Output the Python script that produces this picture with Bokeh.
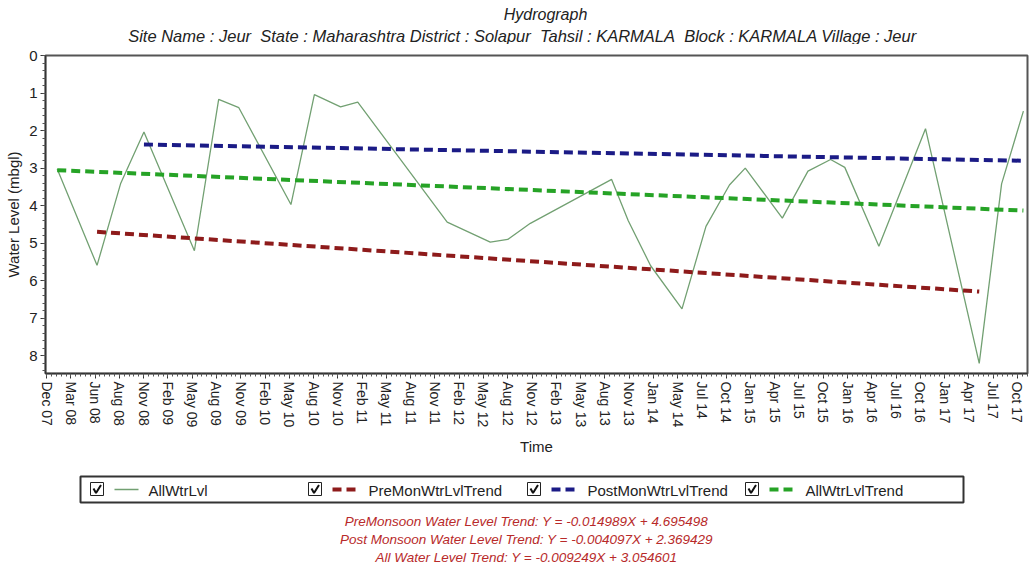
import pandas as pd
from bokeh.plotting import figure
from bokeh.models import Range1d, FixedTicker
from bokeh.layouts import column
from bokeh.embed import file_html
from bokeh.resources import INLINE
from bokeh.core.properties import value

# ---------------------------------------------------------------- data
ORIGIN = "2007-12-01"          # day 0 of the time axis
AXIS_END_DAY = 3601            # right end of the time axis, in days
Y_DEEPEST = 8.47               # bottom of the (inverted) depth axis

TICK_FIRST_DAY = 4
TICK_STEP_DAYS = 89
TICK_LABELS = [
    "Dec 07", "Mar 08", "Jun 08", "Aug 08", "Nov 08", "Feb 09", "May 09",
    "Aug 09", "Nov 09", "Feb 10", "May 10", "Aug 10", "Nov 10", "Feb 11",
    "May 11", "Aug 11", "Nov 11", "Feb 12", "May 12", "Aug 12", "Nov 12",
    "Feb 13", "May 13", "Aug 13", "Nov 13", "Jan 14", "May 14", "Jul 14",
    "Oct 14", "Jan 15", "Apr 15", "Jul 15", "Oct 15", "Jan 16", "Apr 16",
    "Jul 16", "Oct 16", "Jan 17", "Apr 17", "Jul 17", "Oct 17",
]

OBS_DATES = [
    "2008-01-13", "2008-06-07", "2008-09-02", "2008-11-26", "2009-05-30",
    "2009-08-27", "2009-11-09", "2010-05-19", "2010-08-13", "2010-11-17",
    "2011-01-19", "2011-12-13", "2012-05-19", "2012-07-22", "2012-10-13",
    "2013-08-07", "2013-10-07", "2013-12-28", "2014-04-22", "2014-07-19",
    "2014-10-13", "2014-12-10", "2015-04-25", "2015-07-28", "2015-10-19",
    "2015-12-10", "2016-04-13", "2016-10-01", "2017-04-16", "2017-07-07",
    "2017-09-25",
]
WATER_LEVEL = [
    3.02, 5.59, 3.40, 2.04, 5.20,
    1.17, 1.39, 3.97, 1.04, 1.37,
    1.24, 4.44, 4.97, 4.90, 4.47,
    3.30, 4.40, 5.60, 6.75, 4.55,
    3.45, 3.00, 4.33, 3.08, 2.77,
    2.98, 5.08, 1.95, 8.20, 3.42,
    1.48,
]

# linear trends: Y = slope * X + intercept, X in months counted back from the start date
TREND_NAMES = ["PreMonWtrLvlTrend", "PostMonWtrLvlTrend", "AllWtrLvlTrend"]
TREND_SLOPES = [-0.014989, -0.004097, -0.009249]
TREND_INTERCEPTS = [4.695498, 2.369429, 3.054601]
TREND_STARTS = ["2008-06-07", "2008-11-26", "2008-01-13"]
TREND_ENDS = ["2017-04-16", "2017-09-25", "2017-09-25"]
TREND_TITLES = ["PreMonsoon Water Level Trend", "Post Monsoon Water Level Trend",
                "All Water Level Trend"]

SERIES_NAME = "AllWtrLvl"
TITLE = "Hydrograph"
NBSP = "\u00a0"
SUBTITLE = ("Site Name : Jeur" + NBSP * 2 + "State : Maharashtra District : Solapur"
            + NBSP * 2 + "Tahsil : KARMALA" + NBSP * 2 + "Block : KARMALA Village : Jeur")

# ---------------------------------------------------------------- styling
FONT = "Liberation Sans"
TEXT_COLOR = "#222222"
LEVEL_COLOR = "#72a072"
TREND_COLORS = ["#8e1b1b", "#1b1b86", "#26a326"]
TREND_DASH = "9 5"
EQ_COLOR = "#b82a2a"

# page columns: every panel shares the same horizontal frame (x = 45 .. 1027 px)
PAGE_W = 1031
FRAME_L, FRAME_R = 45, 1027
HEAD_H, MAIN_H, FOOT_H = 44, 418, 109

base = pd.Timestamp(ORIGIN)
DAYS_PER_MONTH = 30.4375


def day_of(d):
    return (pd.Timestamp(d) - base).days


def blank_panel(height):
    f = figure(width=PAGE_W, height=height,
               x_range=Range1d(FRAME_L, FRAME_R), y_range=Range1d(height, 0),
               x_axis_type=None, y_axis_type=None,
               output_backend="svg", toolbar_location=None,
               min_border_left=FRAME_L, min_border_right=PAGE_W - FRAME_R,
               min_border_top=0, min_border_bottom=0)
    f.grid.visible = False
    f.outline_line_color = None
    f.background_fill_color = "white"
    f.border_fill_color = "white"
    return f


# ---------------------------------------------------------------- titles
head = blank_panel(HEAD_H)
head.text([545], [14], text=[TITLE], text_font=value(FONT), text_font_size="16px",
          text_font_style="italic", text_align="center", text_baseline="middle",
          text_color=TEXT_COLOR)
head.text([522], [35], text=[SUBTITLE], text_font=value(FONT), text_font_size="16.5px",
          text_font_style="italic", text_align="center", text_baseline="middle",
          text_color=TEXT_COLOR)

# ---------------------------------------------------------------- hydrograph
obs_x = [day_of(d) for d in OBS_DATES]

p = figure(width=PAGE_W, height=MAIN_H,
           x_range=Range1d(0, AXIS_END_DAY), y_range=Range1d(Y_DEEPEST, 0),
           output_backend="svg", toolbar_location=None,
           min_border_left=FRAME_L, min_border_right=PAGE_W - FRAME_R,
           min_border_top=11, min_border_bottom=89)
p.background_fill_color = "white"
p.border_fill_color = "white"
p.outline_line_color = "#555555"
p.outline_line_width = 2
p.grid.visible = False

# x axis: evenly spaced date ticks
major = [TICK_FIRST_DAY + TICK_STEP_DAYS * i for i in range(len(TICK_LABELS))]
minor = [TICK_FIRST_DAY + TICK_STEP_DAYS * i / 5.0 for i in range(-1, 5 * len(TICK_LABELS) + 3)]
p.xaxis.ticker = FixedTicker(ticks=major, minor_ticks=minor)
p.xaxis.major_label_overrides = {t: lab for t, lab in zip(major, TICK_LABELS)}
p.xaxis.major_label_orientation = "vertical"
p.xaxis.axis_label = "Time"

p.yaxis.ticker = FixedTicker(ticks=list(range(0, 9)),
                             minor_ticks=[i / 5.0 for i in range(0, 43)])
p.yaxis.axis_label = "Water Level (mbgl)"

for ax in (p.xaxis[0], p.yaxis[0]):
    ax.axis_line_color = "#333333"
    ax.axis_line_width = 1.5
    ax.major_tick_line_color = "#333333"
    ax.minor_tick_line_color = "#555555"
    ax.major_tick_in = 0
    ax.major_tick_out = 5
    ax.minor_tick_in = 0
    ax.minor_tick_out = 3
    ax.major_label_text_font = FONT
    ax.major_label_text_color = TEXT_COLOR
    ax.major_label_standoff = 3
    ax.axis_label_text_font = FONT
    ax.axis_label_text_font_style = "normal"
    ax.axis_label_text_color = TEXT_COLOR
    ax.axis_label_text_font_size = "15px"
    ax.axis_label_standoff = 4
p.xaxis.major_label_text_font_size = "14px"
p.xaxis.axis_label_standoff = 8
p.yaxis.major_label_text_font_size = "15px"

# observed water level
p.line(obs_x, WATER_LEVEL, line_color=LEVEL_COLOR, line_width=1.3)

# trend lines computed from their equations
for slope, icpt, s, e, col in zip(TREND_SLOPES, TREND_INTERCEPTS,
                                  TREND_STARTS, TREND_ENDS, TREND_COLORS):
    d0, d1 = day_of(s), day_of(e)
    xs = [d0, d1]
    ys = [slope * (-(d - d0) / DAYS_PER_MONTH) + icpt for d in xs]
    p.line(xs, ys, line_color=col, line_width=4, line_dash=TREND_DASH)

# ---------------------------------------------------------------- legend + equations
foot = blank_panel(FOOT_H)
foot.quad(left=[80], right=[963], top=[14], bottom=[40],
          fill_color="white", line_color="#333333", line_width=2)

item_x = [90, 308, 527, 745]
names = [SERIES_NAME] + TREND_NAMES
colors = [LEVEL_COLOR] + TREND_COLORS
for i, (x0, name, col) in enumerate(zip(item_x, names, colors)):
    foot.quad(left=[x0], right=[x0 + 13], top=[20], bottom=[33],
              fill_color="white", line_color="#222222", line_width=1)
    foot.line([x0 + 3, x0 + 5.5, x0 + 10.5], [26, 30.5, 22.5],
              line_color="#111111", line_width=2)
    if i == 0:
        foot.line([x0 + 24, x0 + 48], [27, 27], line_color=col, line_width=1.5)
        tx = x0 + 58
    else:
        foot.line([x0 + 24, x0 + 48], [27, 27], line_color=col, line_width=4,
                  line_dash="9 5")
        tx = x0 + 60
    foot.text([tx], [27.5], text=[name], text_font=value(FONT), text_font_size="15px",
              text_baseline="middle", text_color=TEXT_COLOR)

eq_lines = [f"{t}: Y = {s:.6f}X + {c:.6f}"
            for t, s, c in zip(TREND_TITLES, TREND_SLOPES, TREND_INTERCEPTS)]
foot.text([526] * 3, [59, 77, 95], text=eq_lines, text_font=value(FONT),
          text_font_size="13.5px", text_font_style="italic", text_align="center",
          text_baseline="middle", text_color=EQ_COLOR)

layout = column(head, p, foot, spacing=0)
open("out.html", "w").write(file_html(layout, INLINE))
